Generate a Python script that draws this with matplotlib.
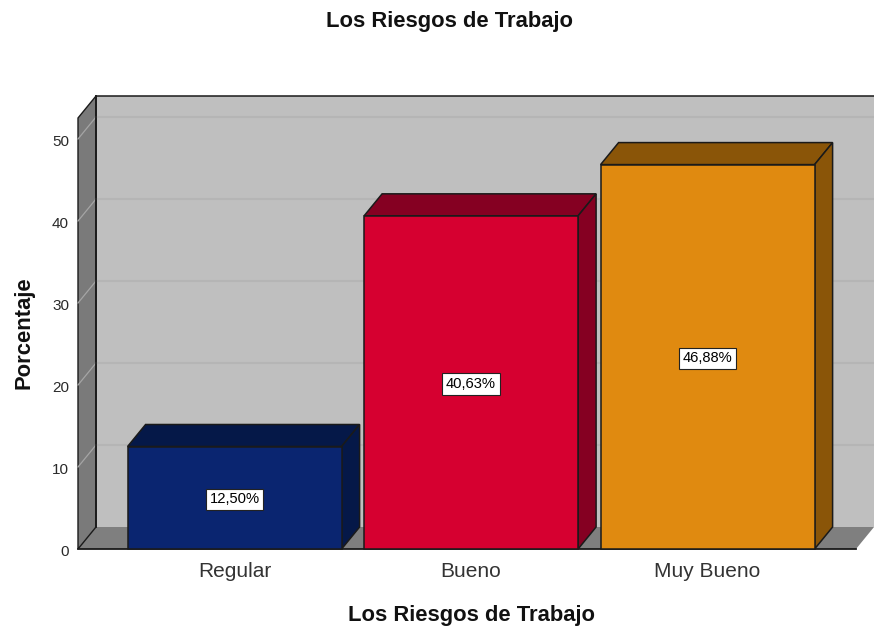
import matplotlib
matplotlib.use("Agg")
import matplotlib.pyplot as plt
from matplotlib.patches import Polygon
from matplotlib.transforms import ScaledTranslation

plt.rcParams['font.family'] = ['Liberation Sans', 'DejaVu Sans']

categories = ["Regular", "Bueno", "Muy Bueno"]
values = [12.50, 40.63, 46.88]
labels = ["12,50%", "40,63%", "46,88%"]
front_colors = ["#0A2570", "#D60030", "#E08A10"]
dark_colors = ["#051848", "#850022", "#8A5508"]
yticks = [0, 10, 20, 30, 40, 50]

W, H = 874, 627
x0_px, x1_px = 78, 874
y0_px, ytop_px = 549, 96
px_per_y = 8.2
px_per_x = 236.5
xc0_px = 234.6
dx = 18 / px_per_x
dy = 22 / px_per_y
bw = 214 / px_per_x

fig = plt.figure(figsize=(W / 100, H / 100), dpi=100, facecolor="white")
ax = fig.add_axes([x0_px / W, 1 - y0_px / H, (x1_px - x0_px) / W, (y0_px - ytop_px) / H])
ax.set_xlim((x0_px - xc0_px) / px_per_x, (x1_px - xc0_px) / px_per_x)
ax.set_ylim(0, (y0_px - ytop_px) / px_per_y)
for s in ax.spines.values():
    s.set_visible(False)
ax.patch.set_visible(False)

xl, xr = ax.get_xlim()
ytop = ax.get_ylim()[1]
front_top = ytop - dy
edge = "#1a1a1a"


def poly(pts, fc, z, ec=edge, lw=1.1):
    ax.add_patch(Polygon(pts, closed=True, facecolor=fc, edgecolor=ec, linewidth=lw,
                         zorder=z, clip_on=False, joinstyle="miter"))


# back wall, floor, side wall
poly([(xl + dx, dy), (xr, dy), (xr, ytop), (xl + dx, ytop)], "#BFBFBF", 1, ec="none", lw=0)
poly([(xl, 0), (xl + dx, dy), (xr, dy), (xr - dx, 0)], "#7F7F7F", 1.5, ec="none", lw=0)
poly([(xl, 0), (xl + dx, dy), (xl + dx, ytop), (xl, front_top)], "#7A7A7A", 2, lw=1.0)
ax.plot([xl + dx, xl + dx], [dy, ytop], color=edge, lw=1.3, zorder=3, clip_on=False)
ax.plot([xl + dx, xr], [ytop, ytop], color=edge, lw=1.1, zorder=3, clip_on=False)
ax.plot([xl, xr - dx], [0, 0], color=edge, lw=1.3, zorder=3, clip_on=False)

# gridlines
for t in yticks[1:]:
    ax.plot([xl + dx, xr], [t + dy, t + dy], color="#B5B5B5", lw=1.5, zorder=2.5, clip_on=False)
    ax.plot([xl, xl + dx], [t, t + dy], color="#A5A5A5", lw=0.9, zorder=2.5, clip_on=False)

# bars
for i, (v, fc, dc, lab) in enumerate(zip(values, front_colors, dark_colors, labels)):
    l, r = i - bw / 2, i + bw / 2
    poly([(l, v), (r, v), (r + dx, v + dy), (l + dx, v + dy)], dc, 4)
    poly([(r, 0), (r + dx, dy), (r + dx, v + dy), (r, v)], dc, 4)
    poly([(l, 0), (r, 0), (r, v), (l, v)], fc, 5)
    ax.annotate(lab, xy=(i, v / 2), xytext=(0, -1.2), textcoords="offset points",
                ha="center", va="center", fontsize=10.6, color="black", zorder=6,
                bbox=dict(boxstyle="square,pad=0.25", facecolor="white", edgecolor="#222222", linewidth=0.8))

ax.set_xticks(range(len(categories)))
ax.set_xticklabels(categories, fontsize=15, color="#333333")
ax.set_yticks(yticks)
ax.set_yticklabels([str(t) for t in yticks], fontsize=11, color="#2a2a2a")
ax.tick_params(axis="x", length=0, pad=9.5)
ax.tick_params(axis="y", length=0, pad=6.5)
shift = ScaledTranslation(0, -1 / 100, fig.dpi_scale_trans)
for tl in ax.get_yticklabels():
    tl.set_transform(tl.get_transform() + shift)

fig.text(449.5 / W, 1 - 21.5 / H, "Los Riesgos de Trabajo", ha="center", va="center",
         fontsize=15.8, fontweight="bold", color="#111111")
fig.text(471.5 / W, 1 - 616 / H, "Los Riesgos de Trabajo", ha="center", va="center",
         fontsize=15.8, fontweight="bold", color="#111111")
fig.text(24 / W, 1 - 333 / H, "Porcentaje", ha="center", va="center", rotation=90,
         fontsize=15.8, fontweight="bold", color="#111111")

fig.savefig("out.png", dpi=100, facecolor="white")
